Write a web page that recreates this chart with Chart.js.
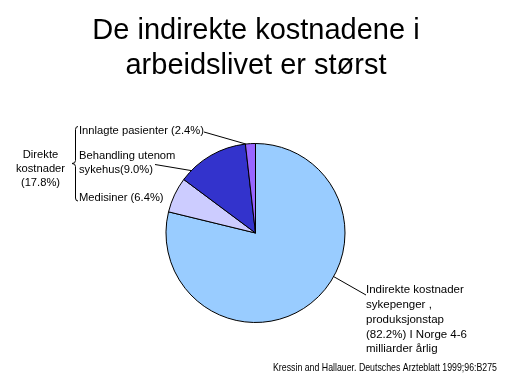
<!DOCTYPE html>
<html>
<head>
<meta charset="utf-8">
<script src="https://cdn.jsdelivr.net/npm/chart.js@4/dist/chart.umd.min.js"></script>
<style>
  html, body { margin: 0; padding: 0; background: #fff; }
  #chart { display: block; }
</style>
</head>
<body>
<canvas id="chart" width="512" height="384"></canvas>
<script>
const titleLines = ["De indirekte kostnadene i", "arbeidslivet er størst"];
const categories = ["Indirekte kostnader", "Medisiner", "Behandling utenom sykehus", "Innlagte pasienter"];
// slice sizes as drawn in the picture (percent)
const sliceValues = [78.8, 6.4, 13.0, 1.8];
const sliceColors = ["#99CCFF", "#CCCCFF", "#3333CC", "#9966FF"];
const indirectLabel = ["Indirekte kostnader", "sykepenger ,", "produksjonstap", "(82.2%) I Norge 4-6", "milliarder årlig"];
const directLabel = ["Direkte", "kostnader", "(17.8%)"];
const innlagteLabel = ["Innlagte pasienter (2.4%)"];
const behandlingLabel = ["Behandling utenom", "sykehus(9.0%)"];
const medisinerLabel = ["Medisiner (6.4%)"];
const sourceText = "Kressin and Hallauer. Deutsches Arzteblatt 1999;96:B275";

const FONT = "'Liberation Sans', Arial, sans-serif";

// point on the rim of a slice, t = 0..1 along the slice
const rimPoint = (arc, t) => {
    const a = arc.startAngle + (arc.endAngle - arc.startAngle) * t;
    return { x: arc.x + arc.outerRadius * Math.cos(a), y: arc.y + arc.outerRadius * Math.sin(a) };
};

const line = (ctx, x1, y1, x2, y2) => {
    ctx.beginPath();
    ctx.moveTo(x1, y1);
    ctx.lineTo(x2, y2);
    ctx.stroke();
};

const textBlock = (ctx, lines, x, y, step, align) => {
    ctx.textAlign = align;
    lines.forEach((t, i) => ctx.fillText(t, x, y + i * step));
};

const annotations = {
    id: "annotations",
    afterDraw(chart) {
        const ctx = chart.ctx;
        const arcs = chart.getDatasetMeta(0).data;
        ctx.save();
        ctx.fillStyle = "#000";
        ctx.strokeStyle = "#000";
        ctx.lineWidth = 1;
        ctx.textBaseline = "middle";

        // title
        ctx.font = "29px " + FONT;
        textBlock(ctx, titleLines, 256, 31, 35, "center");

        ctx.font = "11.2px " + FONT;
        // direct costs group
        textBlock(ctx, directLabel, 40.5, 154.5, 14.2, "center");
        textBlock(ctx, innlagteLabel, 79, 131, 0, "left");
        textBlock(ctx, behandlingLabel, 79, 155.5, 14.5, "left");
        textBlock(ctx, medisinerLabel, 79, 197.5, 0, "left");

        // brace
        ctx.beginPath();
        ctx.moveTo(78, 126.5);
        ctx.quadraticCurveTo(75.5, 126.5, 75.5, 129.5);
        ctx.lineTo(75.5, 160.5);
        ctx.quadraticCurveTo(75.5, 163.5, 72, 163.5);
        ctx.quadraticCurveTo(75.5, 163.5, 75.5, 166.5);
        ctx.lineTo(75.5, 198);
        ctx.quadraticCurveTo(75.5, 201, 78, 201);
        ctx.stroke();

        // leader lines
        const wInn = ctx.measureText(innlagteLabel[0]).width;
        const pInn = rimPoint(arcs[3], 0.05);
        line(ctx, 79 + wInn, 132, pInn.x, pInn.y);

        const wBeh = ctx.measureText(behandlingLabel[1]).width;
        const pBeh = rimPoint(arcs[2], 0.16);
        line(ctx, 79 + wBeh + 2, 164.5, pBeh.x, pBeh.y);

        const pInd = rimPoint(arcs[0], 0.42);
        line(ctx, pInd.x, pInd.y, 366, 295);

        ctx.font = "11.5px " + FONT;
        textBlock(ctx, indirectLabel, 366, 290, 14.8, "left");

        // source, condensed to its width in the picture
        ctx.font = "10.5px " + FONT;
        ctx.textAlign = "left";
        const w = ctx.measureText(sourceText).width;
        ctx.translate(273, 368);
        ctx.scale(224 / w, 1);
        ctx.fillText(sourceText, 0, 0);
        ctx.restore();
    },
};

new Chart(document.getElementById("chart"), {
    type: "pie",
    data: {
        labels: categories,
        datasets: [
            {
                data: sliceValues,
                backgroundColor: sliceColors,
                borderColor: "#000",
                borderWidth: 1,
                radius: 89.5,
            },
        ],
    },
    options: {
        responsive: false,
        animation: false,
        devicePixelRatio: 1,
        layout: {
            padding: { left: 165, right: 166, top: 143, bottom: 61 },
        },
        plugins: {
            legend: { display: false },
            tooltip: { enabled: false },
        },
    },
    plugins: [annotations],
});
</script>
</body>
</html>
